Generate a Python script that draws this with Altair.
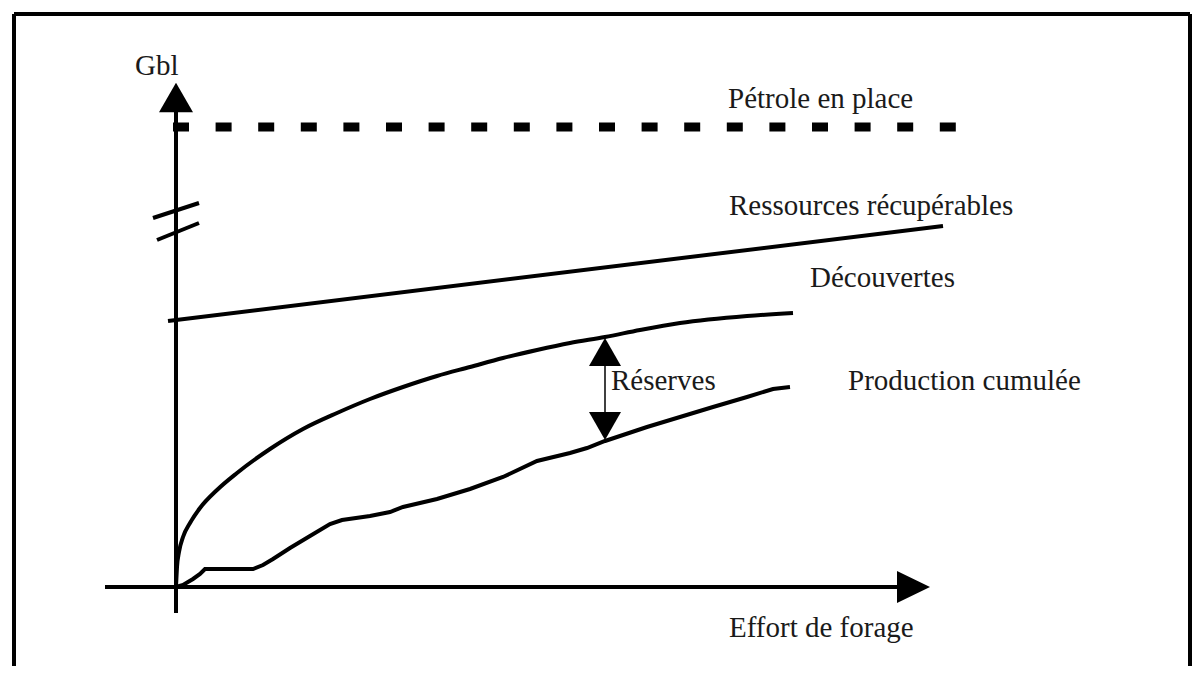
import altair as alt
import pandas as pd

# Units: effort (x) and Gbl (y) in arbitrary schematic units, origin at axes crossing
X_DOMAIN = [-168, 1016]
Y_DOMAIN = [-79, 579]

# Découvertes curve
disc_x = [0, 1, 3, 7, 14, 24, 41, 61, 94, 127, 161, 194, 227, 261, 294, 327, 361, 394, 429, 464, 504, 571, 617]
disc_y = [0, 20, 35, 50, 64, 79, 97, 114, 138, 158, 174, 188, 200, 211, 220, 229, 237, 244, 250, 257, 264, 271, 274]

# Production cumulée curve
prod_x = [0, 7, 17, 24, 29, 77, 87, 97, 114, 134, 154, 166, 194, 214, 227, 261, 294, 327, 361, 394, 411, 429, 471, 504, 537, 571, 597, 614]
prod_y = [0, 2, 8, 13, 18, 18, 22, 28, 39, 51, 63, 67, 71, 75, 80, 88, 98, 110, 126, 134, 139, 146, 160, 170, 180, 190, 198, 200]

# Ressources récupérables (straight line)
res_x = [-8, 767]
res_y = [266, 361]

# Pétrole en place (dashed level)
oil_x = [-3, 780]
oil_y = [460, 460]

# Réserves double arrow
reserve_x = 429
reserve_top = 249
reserve_bottom = 147

# Labels
labels = ["Gbl", "Pétrole en place", "Ressources récupérables", "Découvertes",
          "Réserves", "Production cumulée", "Effort de forage"]
label_x = [-41, 552, 553, 634, 435, 672, 553]
label_y = [512, 479, 372, 300, 197, 197, -50]

xs = alt.Scale(domain=X_DOMAIN, nice=False, zero=False)
ys = alt.Scale(domain=Y_DOMAIN, nice=False, zero=False)

def X(f="x"):
    return alt.X(f"{f}:Q", scale=xs, axis=None)

def Y(f="y"):
    return alt.Y(f"{f}:Q", scale=ys, axis=None)

BLACK = "#000000"

# frame segments
frame = pd.DataFrame({
    "x": [-162, -162, 1014],
    "x2": [1014, -162, 1014],
    "y": [573, 573, 573],
    "y2": [573, -120, -120],
})
frame_layer = alt.Chart(frame).mark_rule(color=BLACK, strokeWidth=4, clip=True).encode(
    x=X(), x2="x2:Q", y=Y(), y2="y2:Q")

# axes lines
axes = pd.DataFrame({
    "x": [0, -71],
    "x2": [0, 721],
    "y": [-26, 0],
    "y2": [475, 0],
})
axes_layer = alt.Chart(axes).mark_rule(color=BLACK, strokeWidth=4).encode(
    x=X(), x2="x2:Q", y=Y(), y2="y2:Q")

# axis break marks
brk = pd.DataFrame({
    "x": [-23, -19],
    "x2": [23, 23],
    "y": [369, 347],
    "y2": [384, 364],
})
brk_layer = alt.Chart(brk).mark_rule(color=BLACK, strokeWidth=4).encode(
    x=X(), x2="x2:Q", y=Y(), y2="y2:Q")

# arrow heads
up_arrow = alt.Chart(pd.DataFrame({"x": [0], "y": [489.5]})).mark_point(
    shape="M0,-0.87L1,0.87L-1,0.87Z", filled=True, size=1156, color=BLACK, opacity=1
).encode(x=X(), y=Y())
right_arrow = alt.Chart(pd.DataFrame({"x": [737.5], "y": [0]})).mark_point(
    shape="M1,0L-1,-0.97L-1,0.97Z", filled=True, size=1089, color=BLACK, opacity=1
).encode(x=X(), y=Y())

# oil in place dashed
oil_layer = alt.Chart(pd.DataFrame({"x": oil_x, "y": oil_y})).mark_line(
    color=BLACK, strokeWidth=9, strokeDash=[16, 26.6]).encode(x=X(), y=Y())

res_layer = alt.Chart(pd.DataFrame({"x": res_x, "y": res_y})).mark_line(
    color=BLACK, strokeWidth=4).encode(x=X(), y=Y())

disc_layer = alt.Chart(pd.DataFrame({"x": disc_x, "y": disc_y})).mark_line(
    color=BLACK, strokeWidth=4, interpolate="monotone").encode(x=X(), y=Y())

prod_layer = alt.Chart(pd.DataFrame({"x": prod_x, "y": prod_y})).mark_line(
    color=BLACK, strokeWidth=4).encode(x=X(), y=Y())

# reserves double arrow
res_arrow_line = alt.Chart(pd.DataFrame({"x": [reserve_x], "y": [reserve_top - 28], "y2": [reserve_bottom + 28]})).mark_rule(
    color=BLACK, strokeWidth=1.5).encode(x=X(), y=Y(), y2="y2:Q")
res_arrow_up = alt.Chart(pd.DataFrame({"x": [reserve_x], "y": [reserve_top - 14]})).mark_point(
    shape="M0,-0.875L1,0.875L-1,0.875Z", filled=True, size=1024, color=BLACK, opacity=1
).encode(x=X(), y=Y())
res_arrow_down = alt.Chart(pd.DataFrame({"x": [reserve_x], "y": [reserve_bottom + 14]})).mark_point(
    shape="M0,0.875L1,-0.875L-1,-0.875Z", filled=True, size=1024, color=BLACK, opacity=1
).encode(x=X(), y=Y())

text_layer = alt.Chart(pd.DataFrame({"x": label_x, "y": label_y, "t": labels})).mark_text(
    align="left", baseline="alphabetic", font="Liberation Serif", fontSize=29, color="#1a1a1a"
).encode(x=X(), y=Y(), text="t:N")

chart = alt.layer(
    frame_layer, oil_layer, res_layer, disc_layer, prod_layer,
    axes_layer, brk_layer, up_arrow, right_arrow,
    res_arrow_line, res_arrow_up, res_arrow_down, text_layer
).properties(
    width=1184, height=658, padding=0, autosize=alt.AutoSizeParams(type="none"),
    background="white"
).configure_view(stroke=None)

chart.save("out.html", embed_options={"renderer": "svg", "actions": False})
